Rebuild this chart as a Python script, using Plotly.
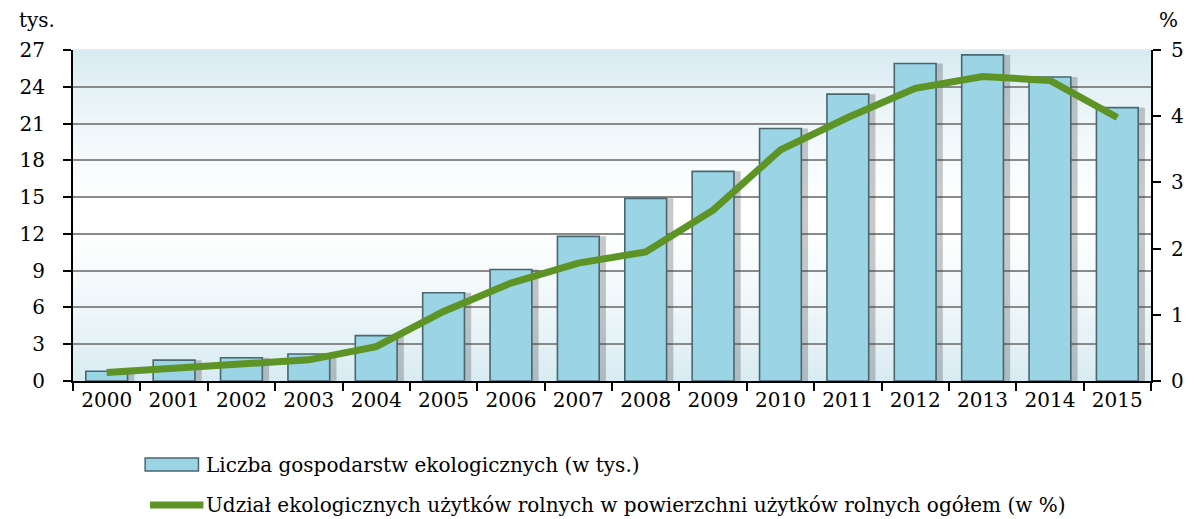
import plotly.graph_objects as go

years = [str(y) for y in range(2000, 2016)]
farms_thousands = [0.8, 1.7, 1.9, 2.2, 3.7, 7.2, 9.1, 11.8, 14.9, 17.1, 20.6, 23.4, 25.9, 26.6, 24.8, 22.3]
share_percent = [0.13, 0.20, 0.27, 0.32, 0.52, 1.05, 1.48, 1.78, 1.95, 2.58, 3.49, 3.98, 4.42, 4.60, 4.54, 3.98]
left_ticks = [0, 3, 6, 9, 12, 15, 18, 21, 24, 27]
right_ticks = [0, 1, 2, 3, 4, 5]

name_bars = "Liczba gospodarstw ekologicznych (w tys.)"
name_line = "Udział ekologicznych użytków rolnych w powierzchni użytków rolnych ogółem (w %)"

FONT = "DejaVu Serif"
FS = 20
BAR_W = 0.62
BAR_COLOR = "#9AD4E5"
BAR_EDGE = "#4A6670"
LINE_COLOR = "#5E9325"

# The page body has an 8px margin, so the figure is drawn 8px in from the window corner.
OFF = 8
WIN_W, WIN_H = 1196, 519
W, H = WIN_W - OFF, WIN_H - OFF
# wanted plot area in window pixels
PL, PR, PT, PB = 63, 1154, 50, 381
L, R, T, B = PL - OFF, W - (PR - OFF), PT - OFF, H - (PB - OFF)
PW, PH = PR - PL, PB - PT


def px(x):
    return (x - PL) / PW


def py(y):
    return (PB - y) / PH


fig = go.Figure()

# soft shadow behind bars
fig.add_trace(go.Bar(
    x=years, y=farms_thousands, width=BAR_W, offset=-BAR_W / 2 + 0.1,
    marker=dict(color="rgba(60,60,60,0.28)", line=dict(width=0)),
    showlegend=False, hoverinfo="skip", yaxis="y"))

fig.add_trace(go.Bar(
    x=years, y=farms_thousands, width=BAR_W, offset=-BAR_W / 2, name=name_bars,
    marker=dict(color=BAR_COLOR, line=dict(color=BAR_EDGE, width=1.6)),
    showlegend=False, yaxis="y"))

fig.add_trace(go.Scatter(
    x=years, y=share_percent, mode="lines", name=name_line,
    line=dict(color=LINE_COLOR, width=7), showlegend=False, yaxis="y2"))

shapes = []
# gradient plot background (light blue at top and bottom, white in the middle)
n = 60
top = (216, 235, 242)
for i in range(n):
    t = (i + 0.5) / n
    w = (abs(t - 0.5) * 2) ** 1.4
    c = tuple(round(255 + (tc - 255) * w) for tc in top)
    shapes.append(dict(type="rect", xref="x domain", yref="y domain",
                       x0=0, x1=1, y0=i / n, y1=(i + 1) / n + 0.002,
                       fillcolor=f"rgb{c}", line=dict(width=0), layer="below"))

# legend symbols
ROW1, ROW2 = 465, 505
shapes.append(dict(type="rect", xref="paper", yref="paper",
                   x0=px(136), x1=px(190), y0=py(ROW1 + 6), y1=py(ROW1 - 7),
                   fillcolor=BAR_COLOR, line=dict(color=BAR_EDGE, width=1.5)))
shapes.append(dict(type="line", xref="paper", yref="paper",
                   x0=px(141), x1=px(195), y0=py(ROW2), y1=py(ROW2),
                   line=dict(color=LINE_COLOR, width=7)))

annotations = [
    dict(text="tys.", x=px(6), y=py(20), xref="paper", yref="paper", xanchor="left",
         yanchor="middle", showarrow=False, font=dict(size=FS)),
    dict(text="%", x=px(1160), y=py(20), xref="paper", yref="paper", xanchor="left",
         yanchor="middle", showarrow=False, font=dict(size=FS)),
    dict(text=name_bars, x=px(196), y=py(ROW1), xref="paper", yref="paper", xanchor="left",
         yanchor="middle", showarrow=False, font=dict(size=FS)),
    dict(text=name_line, x=px(196), y=py(ROW2), xref="paper", yref="paper", xanchor="left",
         yanchor="middle", showarrow=False, font=dict(size=FS)),
]

axis_common = dict(ticks="outside", ticklen=8, tickwidth=2, tickcolor="black",
                   showline=True, linecolor="black", linewidth=2, zeroline=False,
                   tickfont=dict(size=FS))

fig.update_layout(
    width=W, height=H,
    margin=dict(l=L, r=R, t=T, b=B),
    paper_bgcolor="white", plot_bgcolor="rgba(0,0,0,0)",
    barmode="overlay",
    font=dict(family=FONT, size=FS, color="black"),
    xaxis=dict(type="category", tickson="boundaries", showgrid=False,
               range=[-0.5, 15.5], **axis_common),
    yaxis=dict(range=[0, 27], tickvals=left_ticks, showgrid=True,
               gridcolor="#8A8A8A", gridwidth=2, ticklabelstandoff=14, **axis_common),
    yaxis2=dict(range=[0, 5], tickvals=right_ticks, overlaying="y", side="right",
                showgrid=False, ticklabelstandoff=6, **axis_common),
    showlegend=False,
    shapes=shapes,
    annotations=annotations,
)

fig.write_html("out.html")
